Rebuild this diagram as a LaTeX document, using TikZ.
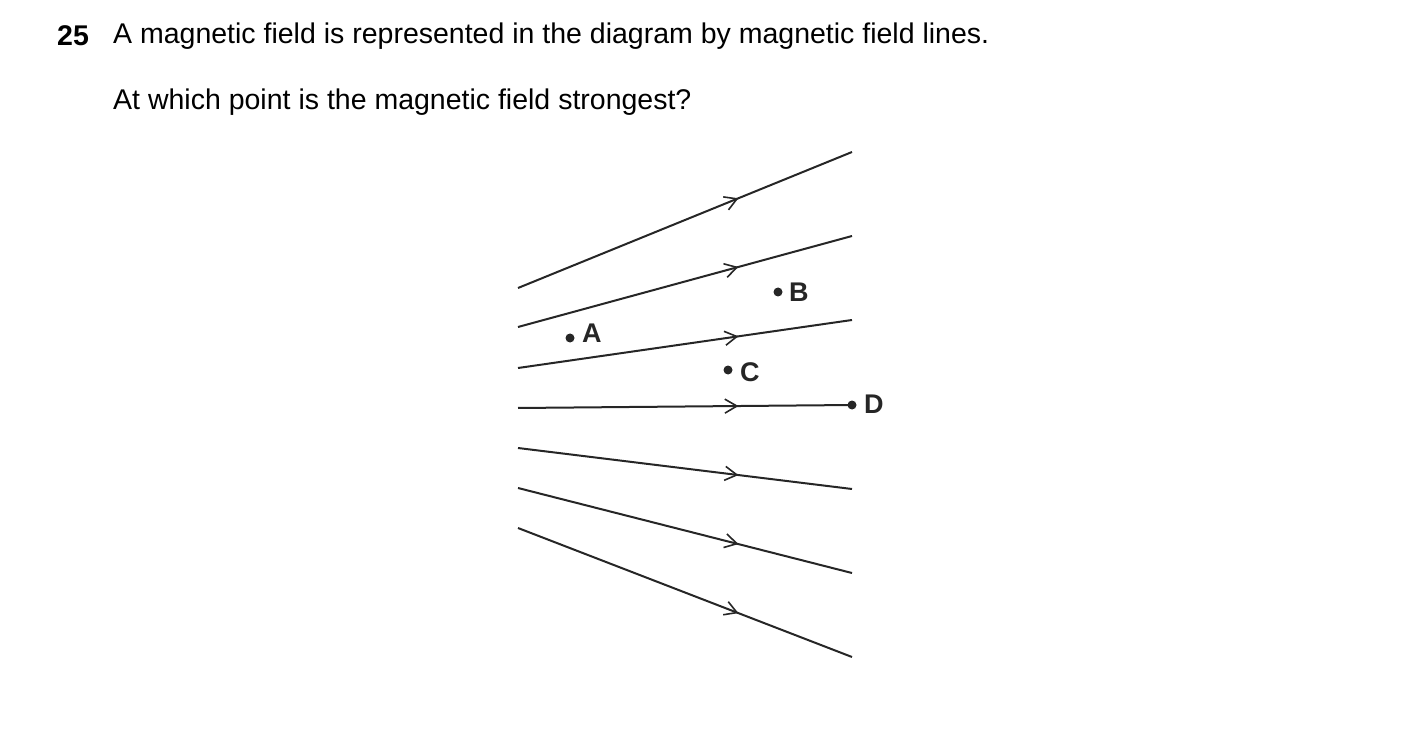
\documentclass[tikz,border=0pt]{standalone}
\usepackage{fontspec}
\setmainfont{Liberation Sans}
\usetikzlibrary{decorations.markings,arrows.meta}
\begin{document}
\begin{tikzpicture}[x=1pt,y=-1pt,
  fl/.style={line width=2pt,color=black!85,postaction={decorate},
    decoration={markings,mark=at position 0.66 with {\arrow{Straight Barb[length=12pt,width=14pt,line width=1.6pt]}}}},
  dot/.style={circle,fill=black!85,inner sep=0pt,minimum size=9pt},
  lab/.style={font=\fontsize{27}{30}\selectfont\bfseries,anchor=west,inner sep=0pt,color=black!85}]
\useasboundingbox (0,0) rectangle (1403,751);
\node[anchor=west,inner sep=0pt,font=\fontsize{28.5}{32}\selectfont\bfseries] (n) at (57,36) {25};
\node[anchor=west,inner sep=0pt,font=\fontsize{28.5}{32}\selectfont] (q1) at (113,36) {A magnetic field is represented in the diagram by magnetic field lines.};
\node[anchor=west,inner sep=0pt,font=\fontsize{28.5}{32}\selectfont] (q2) at (113,102) {At which point is the magnetic field strongest?};
\draw[fl] (518,288) -- (852,152);
\draw[fl] (518,327) -- (852,236);
\draw[fl] (518,368) -- (852,320);
\draw[fl] (518,408) -- (852,405);
\draw[fl] (518,448) -- (852,489);
\draw[fl] (518,488) -- (852,573);
\draw[fl] (518,528) -- (852,657);
\node[dot] (a) at (570,338) {};
\node[lab] (la) at (582,333) {A};
\node[dot] (b) at (778,292) {};
\node[lab] (lb) at (789,292) {B};
\node[dot] (c) at (728,370) {};
\node[lab] (lc) at (740,372) {C};
\node[dot] (d) at (852,405) {};
\node[lab] (ld) at (864,404) {D};
\end{tikzpicture}
\end{document}
